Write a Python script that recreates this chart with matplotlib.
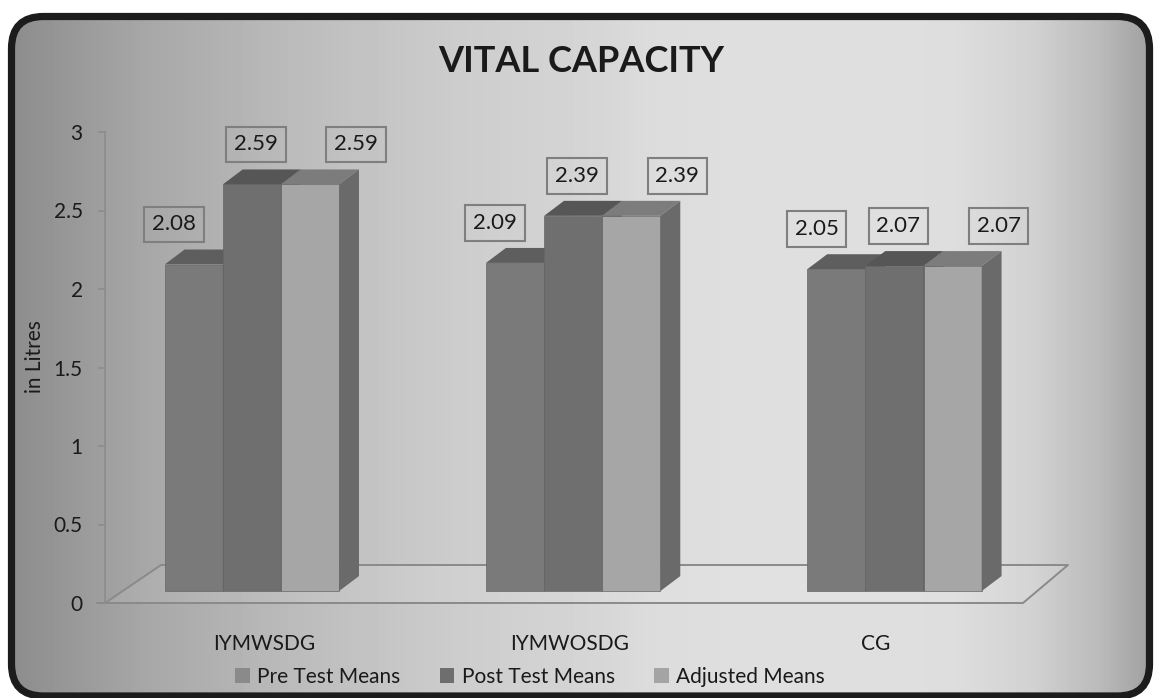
import numpy as np
import matplotlib
matplotlib.use("Agg")
import matplotlib.pyplot as plt
from matplotlib.patches import FancyBboxPatch, Polygon, Rectangle

plt.rcParams["font.family"] = ["Lato", "DejaVu Sans"]

# ---------------------------
# Data
# ---------------------------
groups = ["IYMWSDG", "IYMWOSDG", "CG"]
series_names = ["Pre Test Means", "Post Test Means", "Adjusted Means"]
pre_means = [2.08, 2.09, 2.05]
post_means = [2.59, 2.39, 2.07]
adjusted_means = [2.59, 2.39, 2.07]
y_ticks = [0, 0.5, 1, 1.5, 2, 2.5, 3]

series_vals = [pre_means, post_means, adjusted_means]

# face colours: front, top, side
front_cols = ["#7a7a7a", "#6f6f6f", "#a6a6a6"]
top_cols = ["#5e5e5e", "#565656", "#7c7c7c"]
side_cols = ["#626262", "#5a5a5a", "#6a6a6a"]
legend_cols = ["#8a8a8a", "#6e6e6e", "#a4a4a4"]
label_dx = [-0.065, 0.013, 0.15]   # value label shifts (Excel 3D placement)

W, H = 1157, 698
fig = plt.figure(figsize=(W / 100, H / 100), dpi=100)

# ---------------------------
# Background panel with gradient
# ---------------------------
bg = fig.add_axes([0, 0, 1, 1])
bg.set_xlim(0, W)
bg.set_ylim(0, H)
bg.axis("off")

stops_x = [0, 150, 300, 450, 600, 650, 750, 950, 1030, 1100, 1157]
stops_v = [0x8a, 0xa8, 0xbc, 0xcc, 0xd6, 0xdc, 0xdf, 0xde, 0xd2, 0xba, 0x9c]
xs = np.arange(W)
grad = np.interp(xs, stops_x, stops_v) / 255.0
img = np.tile(grad, (2, 1))
im = bg.imshow(img, cmap="gray", vmin=0, vmax=1, extent=[0, W, 0, H],
               aspect="auto", zorder=0)
panel = FancyBboxPatch((11.5, 2), 1138, 679.5,
                       boxstyle="round,pad=0,rounding_size=32",
                       facecolor="none", edgecolor="#1c1c1c", linewidth=5.2,
                       zorder=2)
bg.add_patch(panel)
im.set_clip_path(panel)

# ---------------------------
# Main axes
# ---------------------------
ax = fig.add_axes([105 / W, (H - 603) / H, (1023 - 105) / W, (603 - 132) / H])
ax.patch.set_alpha(0)
ax.set_xlim(-0.52, 2.48)
ax.set_ylim(0, 3)
for sp in ["top", "right", "bottom"]:
    ax.spines[sp].set_visible(False)
ax.spines["left"].set_color("#8c8c8c")
ax.spines["left"].set_linewidth(1.2)
ax.set_yticks(y_ticks)
ax.set_yticklabels([f"{t:g}" for t in y_ticks])
ax.tick_params(axis="y", length=5, width=1.2, color="#8c8c8c", pad=11,
               labelsize=15, labelcolor="#1a1a1a")
ax.set_xticks(range(len(groups)))
ax.set_xticklabels(groups)
ax.tick_params(axis="x", length=0, pad=22, labelsize=15, labelcolor="#1a1a1a")

# floor
base = 0.076
dx, dy = 0.065, 0.0955
floor_depth = 0.242
floor = Polygon([(-0.52, 0), (2.48, 0), (2.627, floor_depth), (-0.337, floor_depth)],
                closed=True, facecolor="#ffffff", alpha=0.08, edgecolor="none",
                clip_on=False, zorder=1)
ax.add_patch(floor)
ax.plot([-0.545, 2.48, 2.627, -0.337, -0.52], [0, 0, floor_depth, floor_depth, 0],
        color="#8a8a8a", lw=1.4, clip_on=False, zorder=1.5)

# bars
group_x = np.arange(len(groups)) * 1.05 - 0.04
w = 0.19
for i in range(len(groups)):
    for s, vals in enumerate(series_vals):
        v = vals[i]
        x0 = group_x[i] + (s - 1) * w - w / 2
        x1 = x0 + w
        y0, y1 = base, base + v
        z = 3 + i + s * 0.1
        ax.add_patch(Rectangle((x0, y0), w, v, facecolor=front_cols[s],
                               edgecolor="#666666", lw=0.5, zorder=z, clip_on=False))
        ax.add_patch(Polygon([(x0, y1), (x1, y1), (x1 + dx, y1 + dy), (x0 + dx, y1 + dy)],
                             facecolor=top_cols[s], edgecolor="none", zorder=z, clip_on=False))
        ax.add_patch(Polygon([(x1, y0), (x1 + dx, y0 + dy), (x1 + dx, y1 + dy), (x1, y1)],
                             facecolor=side_cols[s], edgecolor="none", zorder=z, clip_on=False))
        ax.text(group_x[i] + (s - 1) * w + label_dx[s], y1 + 0.255, f"{v:.2f}",
                ha="center", va="center", fontsize=16, color="#1a1a1a", zorder=10,
                bbox=dict(boxstyle="square,pad=0.35", facecolor="none",
                          edgecolor="#7f7f7f", linewidth=1.5))

# axis title
fig.text(35 / W, 1 - 357 / H, "in Litres", rotation=90, ha="center", va="center",
         fontsize=15, color="#1a1a1a")

# title
fig.text(581 / W, 1 - 62 / H, "VITAL CAPACITY", ha="center", va="center",
         fontsize=26, fontweight="bold", color="#1a1a1a")

# legend
handles = [Rectangle((0, 0), 1, 1, facecolor=c, edgecolor="none") for c in legend_cols]
fig.legend(handles, series_names, loc="center", bbox_to_anchor=(530 / W, 1 - 677 / H),
           ncol=3, frameon=False, fontsize=15, handlelength=0.7, handleheight=0.7,
           handletextpad=0.35, columnspacing=1.9, labelcolor="#1a1a1a")

fig.savefig("out.png", dpi=100)
